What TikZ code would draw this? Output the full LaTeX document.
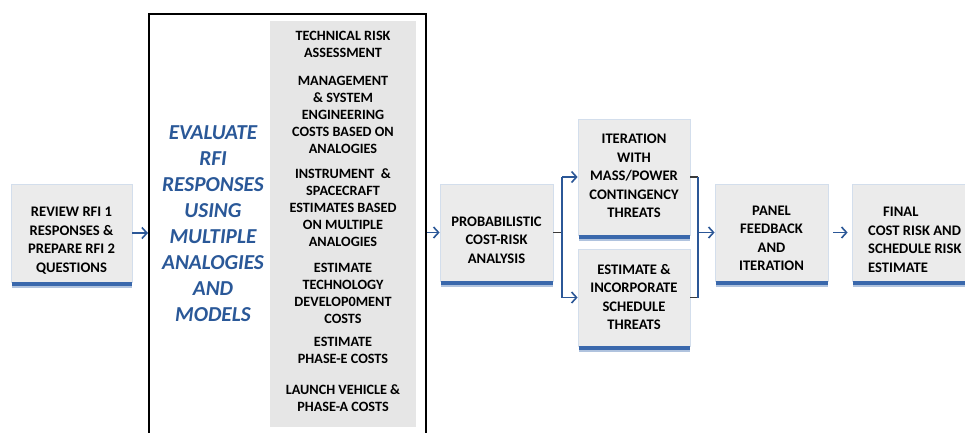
\documentclass[tikz,border=0pt]{standalone}
\usepackage{fontspec}
\setmainfont{Carlito}
\usetikzlibrary{arrows.meta}
\definecolor{boxgray}{HTML}{EBEBEB}
\definecolor{colgray}{HTML}{E6E6E6}
\definecolor{haze}{HTML}{D3DEEC}
\definecolor{barblue}{HTML}{3A68AC}
\definecolor{arrblue}{HTML}{2B5797}
\definecolor{txtblue}{HTML}{2A5898}
\definecolor{stub}{HTML}{3A3A3A}
\newcommand\botbar[1]{%
  \fill[barblue!40] ([xshift=1pt]#1.south west) rectangle ([yshift=-6pt]#1.south east);
  \fill[barblue] ([xshift=1pt]#1.south west) rectangle ([yshift=-3.5pt]#1.south east);}
\begin{document}
\begin{tikzpicture}[x=1pt,y=-1pt,
  box/.style={fill=boxgray, draw=haze, line width=0.8pt, inner sep=0pt},
  btxt/.style={align=center, inner sep=0pt, font=\fontsize{14.6}{18.5}\selectfont\bfseries},
  ctxt/.style={align=center, inner sep=0pt, font=\fontsize{14.2}{17}\selectfont\bfseries},
  arr/.style={draw=arrblue, line width=1.6pt, -{Straight Barb[length=5pt,width=11pt]}},
  bline/.style={draw=arrblue, line width=1.5pt},
  sline/.style={draw=stub, line width=1.1pt}]
\useasboundingbox (0,0) rectangle (965,432);

% frame and column
\node[draw=black, line width=1.8pt, minimum width=277pt, minimum height=432pt, anchor=north west, inner sep=0pt] (frame) at (148,13) {};
\node[fill=colgray, minimum width=146pt, minimum height=406pt, inner sep=0pt] (col) at (343,224) {};
\node[align=center, inner sep=0pt, text=txtblue, font=\fontsize{21.3}{26}\selectfont\bfseries\itshape] (eval) at (213,224)
  {EVALUATE\\RFI\\RESPONSES\\USING\\MULTIPLE\\ANALOGIES\\AND\\MODELS};
\node[ctxt] (c1) at (343,44.5) {TECHNICAL RISK\\ASSESSMENT};
\node[ctxt] (c2) at (343,115) {MANAGEMENT\\\& SYSTEM\\ENGINEERING\\COSTS BASED ON\\ANALOGIES};
\node[ctxt] (c3) at (343,208) {INSTRUMENT\ \ \&\\SPACECRAFT\\ESTIMATES BASED\\ON MULTIPLE\\ANALOGIES};
\node[ctxt] (c4) at (343,293) {ESTIMATE\\TECHNOLOGY\\DEVELOP0MENT\\COSTS};
\node[ctxt] (c5) at (343,350) {ESTIMATE\\PHASE-E COSTS};
\node[ctxt] (c6) at (343,398.5) {LAUNCH VEHICLE \&\\PHASE-A COSTS};

% boxes
\node[box, minimum width=121pt, minimum height=98pt] (review) at (71.5,233) {};
\node[box, minimum width=113pt, minimum height=97pt] (prob) at (496.5,232.5) {};
\node[box, minimum width=112pt, minimum height=116pt] (iter) at (634,177) {};
\node[box, minimum width=112pt, minimum height=97pt] (sched) at (634,297.5) {};
\node[box, minimum width=113pt, minimum height=97pt] (panel) at (771.5,232.5) {};
\node[box, minimum width=123pt, minimum height=97pt] (final) at (913.5,232.5) {};
\botbar{review}\botbar{prob}\botbar{iter}\botbar{sched}\botbar{panel}\botbar{final}

\node[btxt] (reviewt) at (71.5,240.5) {REVIEW RFI 1\\RESPONSES \&\\PREPARE RFI 2\\QUESTIONS};
\node[btxt] (probt) at (496.5,240) {PROBABILISTIC\\COST-RISK\\ANALYSIS};
\node[btxt] (itert) at (634,176) {ITERATION\\WITH\\MASS/POWER\\CONTINGENCY\\THREATS};
\node[btxt] (schedt) at (634,297) {ESTIMATE \&\\INCORPORATE\\SCHEDULE\\THREATS};
\node[btxt] (panelt) at (771.5,238.5) {PANEL\\FEEDBACK\\AND\\ITERATION};
\node[btxt, align=left, anchor=west] (finalt) at (868,240) {\hspace*{15pt}FINAL\\COST RISK AND\\SCHEDULE RISK\\ESTIMATE};

% connectors
\coordinate (j1) at (562,232.5);
\coordinate (j2) at (698,232.5);
\draw[arr] (review.east) -- (review.east -| frame.west);
\draw[arr] (prob.west -| frame.east) -- (prob.west);
\draw[sline] (prob.east) -- (j1);
\draw[bline] (j1 |- iter.west) -- (j1 |- sched.west);
\draw[arr] (j1 |- iter.west) -- (iter.west);
\draw[arr] (j1 |- sched.west) -- (sched.west);
\draw[sline] (iter.east) -- (iter.east -| j2);
\draw[sline] (sched.east) -- (sched.east -| j2);
\draw[bline] (iter.east -| j2) -- (sched.east -| j2);
\draw[arr] (j2) -- (panel.west);
\draw[arr, shorten <=5pt, shorten >=4pt] (panel.east) -- (final.west);
\end{tikzpicture}
\end{document}
